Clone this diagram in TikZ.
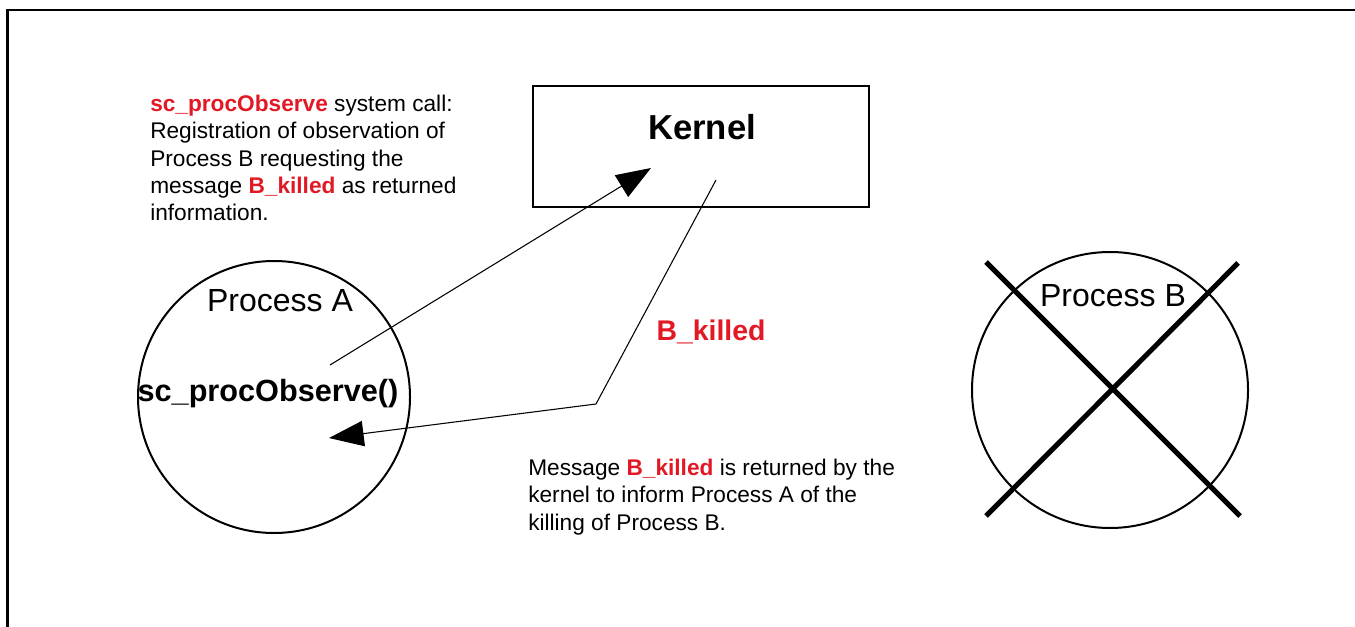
\documentclass[tikz,border=0pt]{standalone}
\usepackage{fontspec}
\setmainfont{Liberation Sans}
\usetikzlibrary{arrows.meta}
\definecolor{kred}{RGB}{226,24,36}
\begin{document}
\begin{tikzpicture}[x=0.75pt,y=-0.75pt,
  frame/.style={line width=2pt},
  kbox/.style={draw,line width=1.5pt,rectangle,minimum width=252pt,minimum height=90.75pt,inner sep=0pt},
  proc/.style={draw,circle,line width=1.5pt,inner sep=0pt},
  bigtext/.style={font=\fontsize{24}{28}\selectfont,inner sep=0pt},
  note/.style={font=\fontsize{17}{20.4}\selectfont,align=left,inner sep=0pt},
  conn/.style={line width=0.8pt,-{Triangle[length=26pt,width=19pt]}},
  xline/.style={line width=3.8pt},
  hl/.style={text=kred,font=\bfseries}]
\useasboundingbox (0,0) rectangle (1355,627);
% frame
\draw[frame] (7.7,627) -- (7.7,10) -- (1355,10);
% kernel
\node[kbox] (kernel) at (701,146.5) {};
\node[font=\fontsize{26}{30}\selectfont\bfseries,inner sep=0pt,anchor=base] (ktext) at (702,140) {Kernel};
% process A
\node[proc,minimum size=204pt] (pa) at (274,397) {};
\node[bigtext,anchor=base] (patext) at (280,311) {Process A};
\node[font=\fontsize{23}{27}\selectfont\bfseries,inner sep=0pt,anchor=base] (obs) at (268,401) {sc\_procObserve()};
% process B
\node[proc,minimum size=207pt] (pb) at (1110,390) {};
\node[bigtext,anchor=base] (pbtext) at (1113,306) {Process B};
\coordinate (x1a) at (986,262);
\coordinate (x1b) at (1240,516);
\coordinate (x2a) at (1238,263);
\coordinate (x2b) at (986,516);
\draw[xline] (x1a) -- (x1b);
\draw[xline] (x2a) -- (x2b);
% label
\node[font=\fontsize{21.3}{25}\selectfont\bfseries,text=kred,inner sep=0pt,anchor=base] (bk) at (711,340) {B\_killed};
% arrows
\coordinate (s1) at (330,365);
\coordinate (t1) at (651,168);
\draw[conn] (s1) -- (t1);
\coordinate (s2) at (716,180);
\coordinate (m2) at (596,404);
\coordinate (t2) at (329,438);
\draw[conn] (s2) -- (m2) -- (t2);
% notes
\node[note,anchor=north west] (n1) at (150,95) {\textcolor{kred}{\bfseries sc\_procObserve} system call:\\Registration of observation of\\Process B requesting the\\message \textcolor{kred}{\bfseries B\_killed} as returned\\information.};
\node[note,anchor=north west] (n2) at (528,459) {Message \textcolor{kred}{\bfseries B\_killed} is returned by the\\kernel to inform Process A of the\\killing of Process B.};
\end{tikzpicture}
\end{document}
